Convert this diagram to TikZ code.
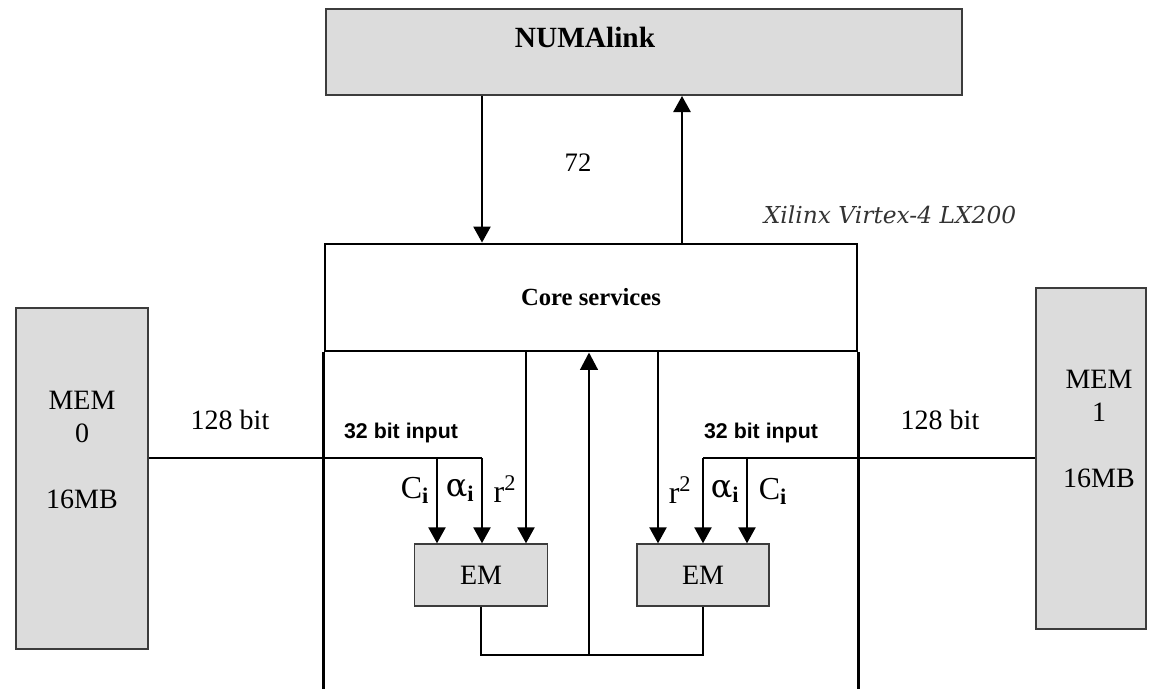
\documentclass[tikz,border=0pt]{standalone}
\usepackage{fontspec}
\setmainfont{Liberation Serif}
\setsansfont{Liberation Sans}
\newfontfamily\xilfont{DejaVu Serif}
\usetikzlibrary{arrows.meta, positioning}

\definecolor{boxgray}{RGB}{220,220,220}
\definecolor{edgegray}{RGB}{60,60,60}

\begin{document}
\begin{tikzpicture}[
    x=0.75pt, y=-0.75pt,
    every node/.style={font=\fontsize{21}{24.75}\selectfont},
    graybox/.style={draw=edgegray, fill=boxgray, line width=1.5pt, rectangle, inner sep=0pt},
    embox/.style={draw=edgegray, fill=boxgray, line width=1.1pt, rectangle, inner sep=0pt, minimum width=100pt, minimum height=46.5pt},
    wall/.style={line width=2.2pt},
    bus/.style={line width=2pt},
    arr/.style={line width=1.1pt, -{Triangle[width=13pt, length=12pt]}},
    inlabel/.style={font=\sffamily\bfseries\fontsize{16}{18}\selectfont},
    siglabel/.style={font=\fontsize{24}{26}\selectfont, inner sep=0pt}
]
    \useasboundingbox (0,0) rectangle (1155,689);

    % NUMAlink
    \node[graybox, minimum width=477pt, minimum height=64.5pt] (numa) at (644,52) {};
    \node[font=\bfseries\fontsize{22}{24}\selectfont] (numatext) at (585,37) {NUMAlink};

    % FPGA and core services
    \node[draw, line width=2.2pt, rectangle, inner sep=0pt, minimum width=399pt, minimum height=80.25pt,
          font=\bfseries\fontsize{18.5}{22}\selectfont] (core) at (591,297.5) {Core services};
    \draw[wall] (core.south west) -- (core.south west |- 0,689);
    \draw[wall] (core.south east) -- (core.south east |- 0,689);
    \node[font=\xilfont\itshape\fontsize{17.5}{20}\selectfont, text=black!80] (fpga) at (890,215) {Xilinx Virtex-4 LX200};

    \draw[arr] (numa.south -| 482,0) -- (core.north -| 482,0);
    \draw[arr] (core.north -| 682,0) -- (numa.south -| 682,0);
    \node[font=\fontsize{20}{22}\selectfont] (width) at (578,163) {72};

    % Memories
    \node[graybox, minimum width=99pt, minimum height=255.75pt] (mem0) at (82,478.5) {};
    \node[align=center] (mem0text) at (82,450) {MEM\\0\\[24.75pt]16MB};
    \node[graybox, minimum width=83pt, minimum height=255.75pt] (mem1) at (1091,458.5) {};
    \node[align=center] (mem1text) at (1099,429) {MEM\\1\\[24.75pt]16MB};
    \node (bitL) at (230,420) {128 bit};
    \node (bitR) at (940,420) {128 bit};

    % EM units
    \node[embox] (emL) at (481,575) {EM};
    \node[embox, minimum width=99pt] (emR) at (703,575) {EM};

    \coordinate (aL) at (482,458);
    \coordinate (cL) at (437,458);
    \coordinate (rL) at (526,351);
    \coordinate (aR) at (703,458);
    \coordinate (cR) at (747,458);
    \coordinate (rR) at (658,351);

    \draw[bus] (mem0.east |- aL) -- (aL);
    \draw[bus] (mem1.west |- aR) -- (aR);
    \node[inlabel] (inL) at (401,433) {32 bit input};
    \node[inlabel] (inR) at (761,433) {32 bit input};

    \draw[arr] (cL) -- (cL |- emL.north);
    \draw[arr] (aL) -- (aL |- emL.north);
    \draw[arr] (rL) -- (rL |- emL.north);
    \draw[arr] (rR) -- (rR |- emR.north);
    \draw[arr] (aR) -- (aR |- emR.north);
    \draw[arr] (cR) -- (cR |- emR.north);

    \node[siglabel] (ciL) at (415,490) {C\textsubscript{\textbf{i}}};
    \node[siglabel] (alL) at (460,490) {{\xilfont α}\textsubscript{\textbf{i}}};
    \node[siglabel] (r2L) at (505,489) {r\textsuperscript{2}};
    \node[siglabel] (r2R) at (680,490) {r\textsuperscript{2}};
    \node[siglabel] (alR) at (725,491) {{\xilfont α}\textsubscript{\textbf{i}}};
    \node[siglabel] (ciR) at (773,491) {C\textsubscript{\textbf{i}}};

    % results back to core services
    \coordinate (join) at (589,655);
    \draw[wall] (emL.south) |- (join) -| (emR.south);
    \draw[wall, -{Triangle[width=13pt, length=13pt]}] (join) -- (join |- core.south);

\end{tikzpicture}
\end{document}
